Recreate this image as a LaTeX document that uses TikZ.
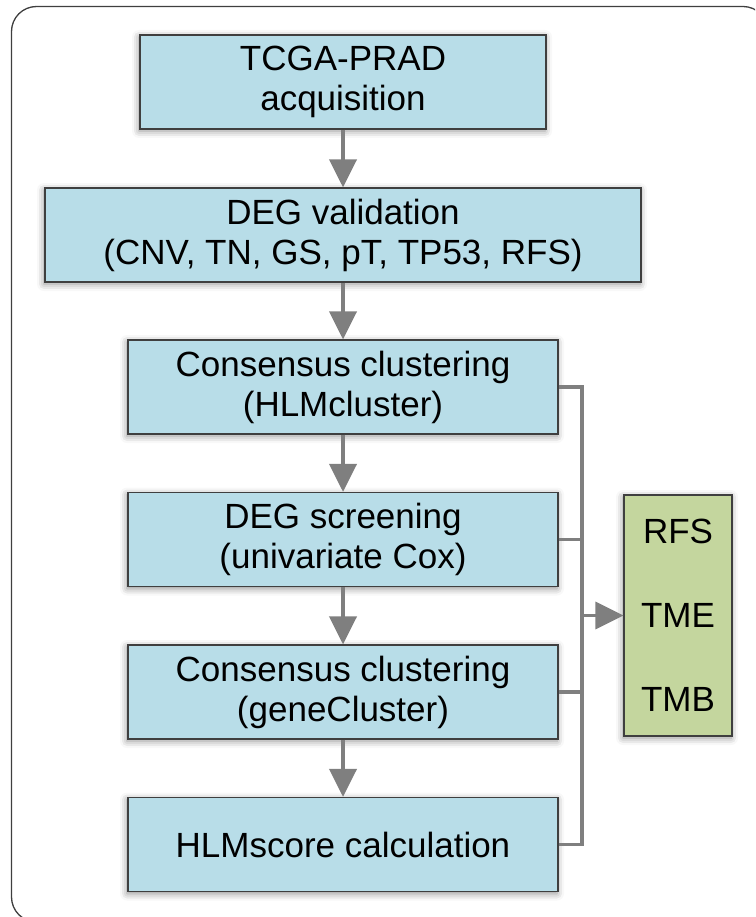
\documentclass[tikz,border=0pt]{standalone}
\usepackage{fontspec}
\setmainfont{Liberation Sans}
\usetikzlibrary{arrows.meta,shadows.blur}
\definecolor{boxblue}{HTML}{B8DDE8}
\definecolor{boxgreen}{HTML}{C4D69E}
\definecolor{edgegray}{HTML}{3F3F3F}
\definecolor{arrowgray}{HTML}{7F7F7F}
\tikzset{
  flowbox/.style={draw=edgegray, line width=1.2pt, fill=boxblue, align=center,
    minimum height=94pt, inner sep=0pt,
    font=\fontsize{35}{40}\selectfont,
    blur shadow={shadow xshift=-1pt, shadow yshift=-2pt, shadow blur radius=7pt, shadow opacity=45}},
  outbox/.style={draw=edgegray, line width=1.2pt, fill=boxgreen, align=center,
    minimum width=108pt, minimum height=241pt, inner sep=0pt,
    font=\fontsize{35}{84}\selectfont,
    blur shadow={shadow xshift=-1pt, shadow yshift=-2pt, shadow blur radius=7pt, shadow opacity=45}},
  downarrow/.style={draw=arrowgray, line width=4pt, -{Triangle[width=27pt,length=28pt]}},
  bracket/.style={draw=arrowgray, line width=3.5pt},
  framestyle/.style={draw=edgegray, line width=1.3pt, rounded corners=25pt}
}
\begin{document}
\begin{tikzpicture}[x=1pt,y=-1pt]
\useasboundingbox (0,0) rectangle (755,917);
\clip (0,0) rectangle (755,917);
\draw[framestyle] (11.5,6.5) rectangle (768,922);
\node[flowbox, minimum width=406pt] (b1) at (343,82) {TCGA-PRAD\\acquisition};
\node[flowbox, minimum width=596pt] (b2) at (343,235) {DEG validation\\(CNV, TN, GS, pT, TP53, RFS)};
\node[flowbox, minimum width=430pt] (b3) at (343,387) {Consensus clustering\\(HLMcluster)};
\node[flowbox, minimum width=430pt] (b4) at (343,539.5) {DEG screening\\(univariate Cox)};
\node[flowbox, minimum width=430pt] (b5) at (343,692) {Consensus clustering\\(geneCluster)};
\node[flowbox, minimum width=430pt] (b6) at (343,844.5) {HLMscore calculation};
\node[outbox] (g) at (678,615.5) {RFS\\TME\\TMB};
\coordinate (bx) at (582,0);
\draw[downarrow] (b1.south) -- (b2.north);
\draw[downarrow] (b2.south) -- (b3.north);
\draw[downarrow] (b3.south) -- (b4.north);
\draw[downarrow] (b4.south) -- (b5.north);
\draw[downarrow] (b5.south) -- (b6.north);
\draw[bracket] (b3.east) -- (b3.east -| bx) -- (b6.east -| bx) -- (b6.east);
\draw[bracket] (b4.east) -- (b4.east -| bx);
\draw[bracket] (b5.east) -- (b5.east -| bx);
\draw[downarrow, line width=3.5pt] (bx |- g.west) -- (g.west);
\end{tikzpicture}
\end{document}
